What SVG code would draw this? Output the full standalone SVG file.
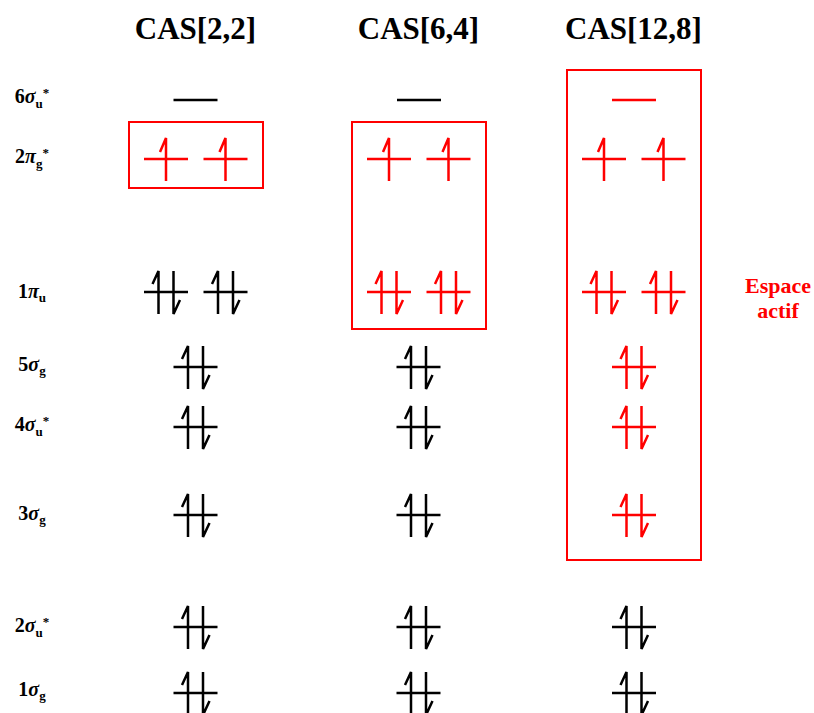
<svg xmlns="http://www.w3.org/2000/svg" xmlns:xlink="http://www.w3.org/1999/xlink" width="814" height="713" viewBox="0 0 814 713">
<style>
text{font-family:"Liberation Serif","Times New Roman",serif;font-weight:bold;fill:#000}
.title{font-size:31px;text-anchor:middle}
.lbl{font-size:20px;text-anchor:middle}
.i{font-style:italic}
.s{font-size:13px}
.k{stroke:#000}
.r{stroke:#f00}
.orb{fill:none;stroke-width:2.5;stroke-linecap:butt;stroke-linejoin:miter}
.box{fill:none;stroke:#f00;stroke-width:2}
.red{fill:#f00;font-size:22px;text-anchor:middle}
</style>
<defs>
<path id="empty" d="M-22 0H22"/>
<path id="single" d="M-22 0H22M0 22V-21L-6 -7"/>
<path id="pair" d="M-22 0H22M-7.5 22V-21L-13.5 -8M7.5 -21V22L14 8"/>
</defs>
<g id="titles">
<text class="title" x="195.5" y="39">CAS[2,2]</text>
<text class="title" x="418.5" y="39">CAS[6,4]</text>
<text class="title" x="633.5" y="39">CAS[12,8]</text>
</g>
<g id="labels">
<text class="lbl" x="32" y="103">6<tspan class="i">σ</tspan><tspan class="s" dy="5">u</tspan><tspan class="s" dy="-11">*</tspan></text>
<text class="lbl" x="32" y="163">2<tspan class="i">π</tspan><tspan class="s" dy="5">g</tspan><tspan class="s" dy="-11">*</tspan></text>
<text class="lbl" x="32" y="298">1<tspan class="i">π</tspan><tspan class="s" dy="4">u</tspan></text>
<text class="lbl" x="32" y="371">5<tspan class="i">σ</tspan><tspan class="s" dy="4">g</tspan></text>
<text class="lbl" x="32" y="431">4<tspan class="i">σ</tspan><tspan class="s" dy="5">u</tspan><tspan class="s" dy="-11">*</tspan></text>
<text class="lbl" x="32" y="520">3<tspan class="i">σ</tspan><tspan class="s" dy="4">g</tspan></text>
<text class="lbl" x="32" y="632">2<tspan class="i">σ</tspan><tspan class="s" dy="5">u</tspan><tspan class="s" dy="-11">*</tspan></text>
<text class="lbl" x="32" y="696">1<tspan class="i">σ</tspan><tspan class="s" dy="4">g</tspan></text>
</g>
<g id="cas22" class="orb">
<use xlink:href="#empty" x="195.5" y="100" class="k"/>
<use xlink:href="#single" x="166" y="159" class="r"/>
<use xlink:href="#single" x="225.5" y="159" class="r"/>
<use xlink:href="#pair" x="166" y="292" class="k"/>
<use xlink:href="#pair" x="225.5" y="292" class="k"/>
<use xlink:href="#pair" x="195.5" y="367" class="k"/>
<use xlink:href="#pair" x="195.5" y="427" class="k"/>
<use xlink:href="#pair" x="195.5" y="515" class="k"/>
<use xlink:href="#pair" x="195.5" y="627" class="k"/>
<use xlink:href="#pair" x="195.5" y="693" class="k"/>
<rect class="box" x="129" y="122" width="134" height="66"/>
</g>
<g id="cas64" class="orb">
<use xlink:href="#empty" x="419" y="100" class="k"/>
<use xlink:href="#single" x="389" y="159" class="r"/>
<use xlink:href="#single" x="448.5" y="159" class="r"/>
<use xlink:href="#pair" x="389" y="292" class="r"/>
<use xlink:href="#pair" x="448.5" y="292" class="r"/>
<use xlink:href="#pair" x="418.5" y="367" class="k"/>
<use xlink:href="#pair" x="418.5" y="427" class="k"/>
<use xlink:href="#pair" x="418.5" y="515" class="k"/>
<use xlink:href="#pair" x="418.5" y="627" class="k"/>
<use xlink:href="#pair" x="418.5" y="693" class="k"/>
<rect class="box" x="352" y="122" width="134" height="207"/>
</g>
<g id="cas128" class="orb">
<use xlink:href="#empty" x="634" y="100" class="r"/>
<use xlink:href="#single" x="604" y="159" class="r"/>
<use xlink:href="#single" x="663.5" y="159" class="r"/>
<use xlink:href="#pair" x="604" y="292" class="r"/>
<use xlink:href="#pair" x="663.5" y="292" class="r"/>
<use xlink:href="#pair" x="634" y="367" class="r"/>
<use xlink:href="#pair" x="634" y="427" class="r"/>
<use xlink:href="#pair" x="634" y="515" class="r"/>
<use xlink:href="#pair" x="634" y="627" class="k"/>
<use xlink:href="#pair" x="634" y="693" class="k"/>
<rect class="box" x="567" y="70" width="134" height="490"/>
</g>
<g id="espace">
<text class="red" x="778" y="293">Espace</text>
<text class="red" x="778" y="318">actif</text>
</g>
</svg>
